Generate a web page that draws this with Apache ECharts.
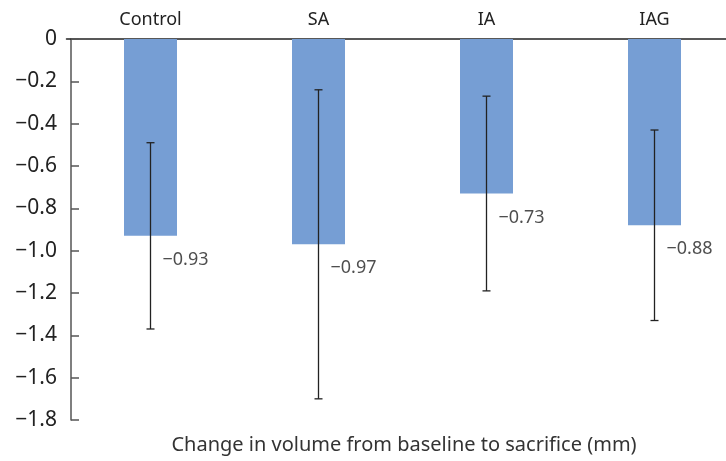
<!DOCTYPE html>
<html>
<head>
<meta charset="utf-8">
<script src="https://cdn.jsdelivr.net/npm/echarts@6/dist/echarts.min.js"></script>
<style>
  html, body { margin: 0; padding: 0; background: #fff; }
  #chart { width: 726px; height: 461px; }
</style>
</head>
<body>
<div id="chart"></div>
<script>
// groups and measured means
const groups = ["Control", "SA", "IA", "IAG"];
const means = [-0.93, -0.97, -0.73, -0.88];
// error bar ends (upper, lower)
const errHigh = [-0.49, -0.24, -0.27, -0.43];
const errLow = [-1.37, -1.70, -1.19, -1.33];
const axisTitle = "Change in volume from baseline to sacrifice (mm)";

const FONT = "Noto Sans";

const chart = echarts.init(document.getElementById("chart"));

const option = {
  animation: false,
  textStyle: { fontFamily: FONT },
  grid: {
    left: 66.5,
    width: 672, // last band runs past the right edge, as in the source
    top: 39,
    bottom: 41,
    containLabel: false,
    outerBoundsMode: "none",
  },
  xAxis: {
    type: "category",
    position: "top",
    data: groups,
    axisLine: { lineStyle: { color: "#222", width: 1.5 } },
    axisTick: { show: false },
    axisLabel: { color: "#222", fontSize: 18, margin: 10, fontFamily: FONT },
  },
  yAxis: {
    type: "value",
    min: -1.8,
    max: 0,
    interval: 0.2,
    offset: -4.5,
    axisLine: { show: true, lineStyle: { color: "#555", width: 1.5 } },
    axisTick: { show: true, inside: true, length: 8, lineStyle: { color: "#555", width: 1.5 } },
    splitLine: { show: false },
    axisLabel: {
      color: "#222",
      fontSize: 21,
      margin: 14,
      fontFamily: FONT,
      formatter: (v) => (v === 0 ? "0" : v.toFixed(1).replace("-", "\u2212")),
    },
  },
  graphic: [
    {
      type: "text",
      x: 404,
      y: 445,
      style: {
        text: axisTitle,
        font: "20px " + FONT,
        fill: "#333",
        textAlign: "center",
        textVerticalAlign: "middle",
      },
    },
  ],
  series: [
    {
      type: "bar",
      data: means,
      barWidth: 53,
      itemStyle: { color: "#769ed4" },
      z: 1,
    },
    {
      // whiskers
      type: "custom",
      data: groups.map((g, i) => [i, errHigh[i], errLow[i]]),
      renderItem: (params, api) => {
        const top = api.coord([api.value(0), api.value(1)]);
        const bot = api.coord([api.value(0), api.value(2)]);
        const hw = 4;
        const style = { stroke: "#222", lineWidth: 1.3 };
        return {
          type: "group",
          children: [
            { type: "line", shape: { x1: top[0], y1: top[1], x2: bot[0], y2: bot[1] }, style },
            { type: "line", shape: { x1: top[0] - hw, y1: top[1], x2: top[0] + hw, y2: top[1] }, style },
            { type: "line", shape: { x1: bot[0] - hw, y1: bot[1], x2: bot[0] + hw, y2: bot[1] }, style },
          ],
        };
      },
      z: 3,
    },
    {
      // value labels
      type: "scatter",
      data: means,
      symbolSize: 0,
      silent: true,
      label: {
        show: true,
        position: "right",
        distance: 0,
        offset: [12, 24],
        color: "#222",
        fontSize: 18,
        fontFamily: FONT,
        formatter: (p) => p.value.toFixed(2).replace("-", "\u2212"),
      },
      z: 4,
    },
  ],
};

chart.setOption(option);
window.addEventListener("resize", () => chart.resize());
</script>
</body>
</html>
